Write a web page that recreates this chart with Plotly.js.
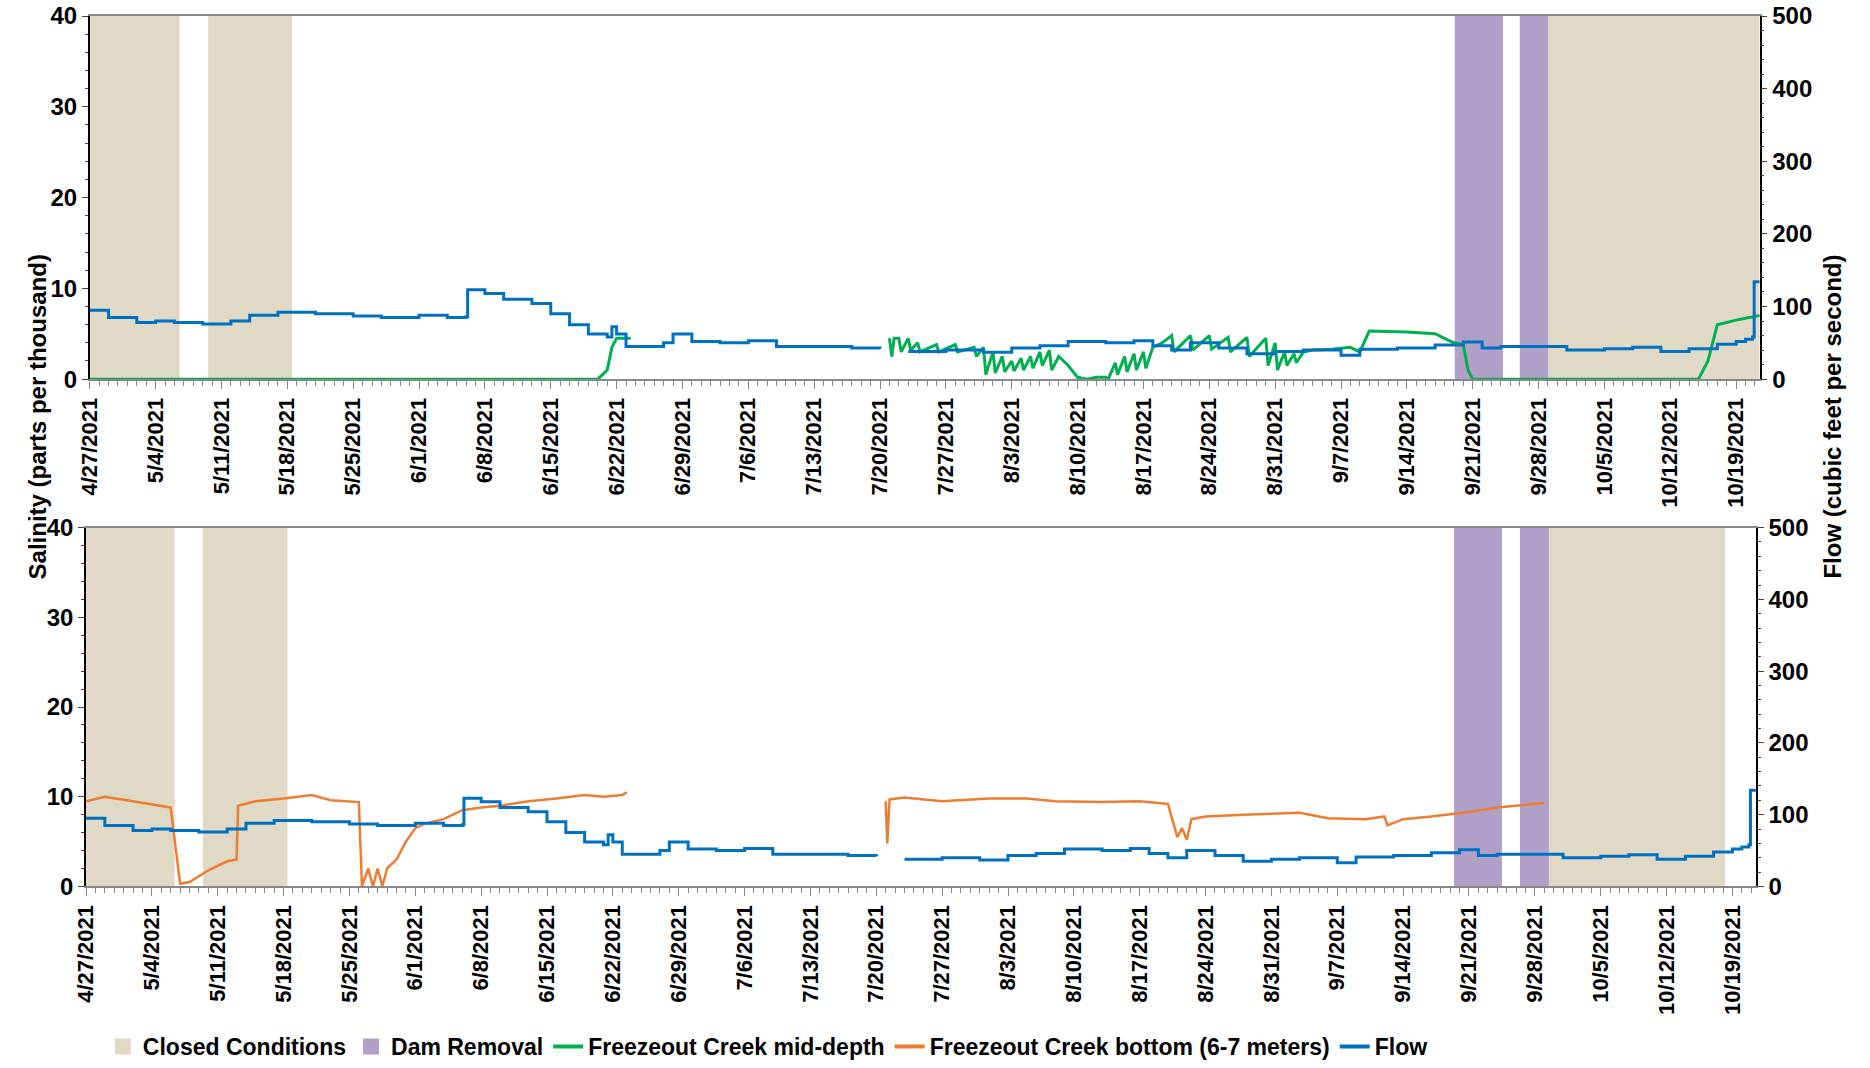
<!DOCTYPE html>
<html><head><script src="https://cdn.plot.ly/plotly-3.0.1.min.js"></script>
<style>body{margin:0}</style></head><body><div id="g" style="width:1870px;height:1068px"></div>
<script>
const flowDates=["2021-04-27","2021-04-29","2021-05-02","2021-05-04","2021-05-06","2021-05-09","2021-05-12","2021-05-14","2021-05-17","2021-05-21","2021-05-25","2021-05-28","2021-06-01","2021-06-04","2021-06-06","2021-06-06 04:00","2021-06-08","2021-06-10","2021-06-13","2021-06-15","2021-06-17","2021-06-19","2021-06-21","2021-06-21 12:00","2021-06-22","2021-06-23","2021-06-27","2021-06-28","2021-06-30","2021-07-03","2021-07-06","2021-07-09","2021-07-14","2021-07-17","2021-07-20","2021-07-21",
"2021-07-23","2021-07-27","2021-07-31","2021-08-03","2021-08-06","2021-08-09","2021-08-13","2021-08-16","2021-08-18","2021-08-20","2021-08-22","2021-08-25","2021-08-28","2021-08-31","2021-09-03","2021-09-07","2021-09-09","2021-09-13","2021-09-17","2021-09-20","2021-09-22","2021-09-24","2021-09-28","2021-10-01","2021-10-05","2021-10-08","2021-10-11","2021-10-14","2021-10-17","2021-10-19","2021-10-20","2021-10-20 18:00","2021-10-20 22:00","2021-10-21 12:00"];
const flowValues=[95,85,78,80,78,76,80,88,92,90,87,85,88,85,86,123,118,110,104,90,75,62,58,72,62,45,50,62,52,50,53,45,45,43,42,null,
38,40,37,43,46,52,50,53,46,40,50,43,35,38,40,33,41,43,47,51,43,45,45,40,42,44,38,42,48,52,55,58,134,134];
const midDates=["2021-04-27","2021-06-20","2021-06-21","2021-06-21 12:00","2021-06-22","2021-06-23","2021-06-23 12:00","2021-06-24",
"2021-07-21","2021-07-21 06:00","2021-07-21 12:00","2021-07-22","2021-07-22 06:00","2021-07-23","2021-07-23 06:00","2021-07-24","2021-07-24 06:00","2021-07-26","2021-07-26 06:00","2021-07-28","2021-07-28 06:00","2021-07-30","2021-07-30 06:00","2021-07-31","2021-07-31 06:00","2021-08-01","2021-08-01 06:00","2021-08-02","2021-08-02 06:00","2021-08-03","2021-08-03 06:00","2021-08-04","2021-08-04 06:00","2021-08-05","2021-08-05 06:00","2021-08-06","2021-08-06 06:00","2021-08-07","2021-08-07 06:00","2021-08-08","2021-08-09","2021-08-10","2021-08-11","2021-08-12","2021-08-13","2021-08-13 06:00","2021-08-14","2021-08-14 06:00","2021-08-15","2021-08-15 06:00","2021-08-16","2021-08-16 06:00","2021-08-17","2021-08-17 06:00","2021-08-18","2021-08-19","2021-08-20","2021-08-20 06:00","2021-08-22","2021-08-22 06:00","2021-08-24","2021-08-24 06:00","2021-08-26","2021-08-26 06:00","2021-08-28","2021-08-28 06:00","2021-08-30","2021-08-30 06:00","2021-08-31","2021-08-31 06:00","2021-09-01","2021-09-01 06:00","2021-09-02","2021-09-02 06:00","2021-09-03","2021-09-04","2021-09-06","2021-09-08","2021-09-09","2021-09-10","2021-09-14","2021-09-17","2021-09-18","2021-09-19","2021-09-20","2021-09-20 12:00","2021-09-21","2021-10-15","2021-10-16","2021-10-17","2021-10-19","2021-10-21 12:00"];
const midValues=[0,0,1,3.5,4.5,4.5,4.5,null,
4.5,2.5,4.5,4.5,3.0,4.5,3.2,4.0,3.0,3.8,3.0,3.8,3.0,3.5,2.5,3.5,0.5,3.0,0.7,2.5,0.8,2.0,0.9,2.3,1.0,2.5,1.2,3.0,1.5,3.2,1.0,2.5,1.5,0.2,0,0.2,0.2,0,1.8,0.5,2.5,0.8,2.8,1.0,3.0,1.2,3.5,4.0,4.8,3.0,4.8,3.2,4.8,3.3,4.6,3.0,4.6,2.5,4.5,1.5,4.0,1.0,3.0,1.5,2.8,1.8,3.0,3.2,3.3,3.5,3.0,5.3,5.2,5.0,4.5,4.0,3.8,1.0,0,0,2,6.0,6.5,7.0];
const botDates=["2021-04-27","2021-04-29","2021-05-02","2021-05-05","2021-05-06","2021-05-07","2021-05-08","2021-05-10","2021-05-12","2021-05-13","2021-05-13 04:00","2021-05-15","2021-05-18","2021-05-21","2021-05-23","2021-05-26","2021-05-26 08:00","2021-05-27","2021-05-27 12:00","2021-05-28","2021-05-28 12:00","2021-05-29","2021-05-30","2021-05-31","2021-06-01","2021-06-02","2021-06-04","2021-06-06","2021-06-08","2021-06-10","2021-06-13","2021-06-16","2021-06-19","2021-06-21","2021-06-23","2021-06-23 12:00","2021-06-24",
"2021-07-21","2021-07-21 04:00","2021-07-21 10:00","2021-07-23","2021-07-27","2021-08-01","2021-08-05","2021-08-08","2021-08-13","2021-08-17","2021-08-20","2021-08-21","2021-08-21 12:00","2021-08-22","2021-08-22 12:00","2021-08-24","2021-08-28","2021-09-03","2021-09-06","2021-09-10","2021-09-12","2021-09-12 08:00","2021-09-14","2021-09-17","2021-09-21","2021-09-24","2021-09-29"];
const botValues=[9.5,10,9.5,9,8.8,0.3,0.5,1.8,2.8,3,9,9.5,9.8,10.2,9.6,9.4,0,2,0,2,0,2,3,5,6.5,7,7.5,8.5,8.8,9,9.5,9.8,10.2,10,10.2,10.5,null,
9.5,4.8,9.7,9.9,9.5,9.8,9.8,9.5,9.4,9.5,9.2,5.5,6.5,5.2,7.5,7.8,8,8.2,7.6,7.5,7.8,6.8,7.5,7.8,8.3,8.8,9.3];

const closed=["#e0d9c5"], dam="#b0a0c8";
const BLUE="#0070c0",GREEN="#00b050",ORANGE="#ed7d31";
const F="Liberation Sans, Arial, sans-serif";
const traces=[
 {x:flowDates,y:flowValues,xaxis:'x',yaxis:'y2',line:{color:BLUE,width:3,shape:'hv'},mode:'lines',showlegend:false},
 {x:midDates,y:midValues,xaxis:'x',yaxis:'y',line:{color:GREEN,width:3},mode:'lines',showlegend:false},
 {x:flowDates,y:flowValues,xaxis:'x2',yaxis:'y4',line:{color:BLUE,width:3,shape:'hv'},mode:'lines',showlegend:false},
 {x:botDates,y:botValues,xaxis:'x2',yaxis:'y3',line:{color:ORANGE,width:2.5},mode:'lines',showlegend:false},
 {x:[null],y:[null],name:'Closed Conditions',mode:'markers',marker:{symbol:'square',size:20,color:closed[0]},xaxis:'x',yaxis:'y'},
 {x:[null],y:[null],name:'Dam Removal',mode:'markers',marker:{symbol:'square',size:20,color:dam},xaxis:'x',yaxis:'y'},
 {x:[null],y:[null],name:'Freezeout Creek mid-depth',mode:'lines',line:{color:GREEN,width:4},xaxis:'x',yaxis:'y'},
 {x:[null],y:[null],name:'Freezeout Creek bottom (6-7 meters)',mode:'lines',line:{color:ORANGE,width:4},xaxis:'x',yaxis:'y'},
 {x:[null],y:[null],name:'Flow',mode:'lines',line:{color:BLUE,width:4},xaxis:'x',yaxis:'y'}
];
function rect(xr,x0,x1,c){return {type:'rect',xref:xr,yref:(xr=='x'?'y':'y3'),x0:x0,x1:x1,y0:0,y1:40,fillcolor:c,line:{width:0},layer:'below'};}
const shapes=[
 rect('x','2021-04-27','2021-05-06 13:00',closed[0]),rect('x','2021-05-09 14:00','2021-05-18 12:00',closed[0]),
 rect('x','2021-09-19 02:00','2021-09-24 05:00',dam),rect('x','2021-09-26','2021-09-29',dam),rect('x','2021-09-29','2021-10-21 12:00',closed[0]),
 rect('x2','2021-04-27','2021-05-06 10:00',closed[0]),rect('x2','2021-05-09 10:00','2021-05-18 10:00',closed[0]),
 rect('x2','2021-09-19 10:00','2021-09-24 12:00',dam),rect('x2','2021-09-26 10:00','2021-09-29 12:00',dam),rect('x2','2021-09-29 12:00','2021-10-18 05:00',closed[0])
];
const tickvals=[];for(let d=0;d<=175;d+=7){const t=new Date(Date.UTC(2021,3,27+d));tickvals.push(t.toISOString().slice(0,10));}
const ticktext=tickvals.map(s=>{const p=s.split('-');return (+p[1])+'/'+(+p[2])+'/'+p[0];});
function xa(dom,anchor){return {domain:dom,anchor:anchor,range:['2021-04-27','2021-10-21 12:00'],type:'date',tickmode:'array',tickvals:tickvals,ticktext:ticktext,tickangle:-90,
 tickfont:{family:F,size:22,color:'#000',weight:'bold'},showgrid:false,showline:true,linecolor:'#888',linewidth:1.5,mirror:true,ticks:'outside',ticklen:8,tickcolor:'#888',
 minor:{dtick:86400000,ticks:'outside',ticklen:5,tickcolor:'#888',showgrid:false},automargin:false};}
function yl(dom,anchor){return {domain:dom,anchor:anchor,range:[0,40],dtick:10,showgrid:false,showline:true,linecolor:'#000',linewidth:1.5,ticks:'outside',ticklen:6,
 tickfont:{family:F,size:24,color:'#000',weight:'bold'},minor:{dtick:2,ticks:'outside',ticklen:3},zeroline:false,automargin:false};}
function yr(ov,anchor){return {overlaying:ov,side:'right',anchor:anchor,range:[0,500],dtick:100,showgrid:false,showline:true,linecolor:'#000',linewidth:1.5,ticks:'outside',ticklen:6,
 tickfont:{family:F,size:24,color:'#000',weight:'bold'},minor:{dtick:20,ticks:'outside',ticklen:3},zeroline:false,automargin:false};}
const layout={width:1870,height:1068,margin:{l:0,r:0,t:0,b:0},paper_bgcolor:'#fff',plot_bgcolor:'rgba(0,0,0,0)',
 xaxis:xa([0.048,0.941],'y'),yaxis:yl([0.645,0.985],'x'),yaxis2:yr('y','x'),
 xaxis2:xa([0.046,0.939],'y3'),yaxis3:yl([0.170,0.506],'x2'),yaxis4:yr('y3','x2'),
 shapes:shapes,
 legend:{orientation:'h',x:0.055,y:0.0,yanchor:'bottom',font:{family:F,size:23,color:'#000',weight:'bold'},itemwidth:30,traceorder:'normal'},
 annotations:[
  {text:'Salinity (parts per thousand)',textangle:-90,xref:'paper',yref:'paper',x:0.012,y:0.61,showarrow:false,font:{family:F,size:24,color:'#000',weight:'bold'}},
  {text:'Flow (cubic feet per second)',textangle:-90,xref:'paper',yref:'paper',x:0.988,y:0.61,showarrow:false,font:{family:F,size:24,color:'#000',weight:'bold'}}
 ]};
Plotly.newPlot('g',traces,layout,{displayModeBar:false});
</script></body></html>
